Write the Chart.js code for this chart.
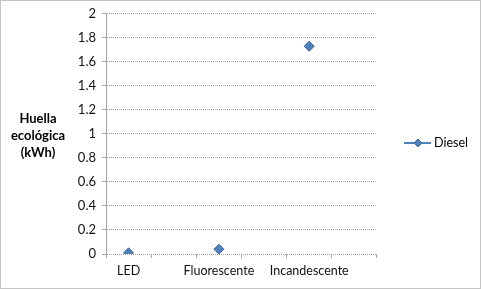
<!DOCTYPE html>
<html>
<head>
<meta charset="utf-8">
<script src="https://cdn.jsdelivr.net/npm/chart.js@4/dist/chart.umd.min.js"></script>
<style>
  html, body { margin: 0; padding: 0; background: #fff; }
  #wrap { width: 481px; height: 289px; }
</style>
</head>
<body>
<div id="wrap"><canvas id="chart" width="481" height="289"></canvas></div>
<script>
// Chart data (blank rows between the categories, as in the sheet)
const categories = ['LED', '', 'Fluorescente', '', 'Incandescente', ''];
const dieselValues = [0.01, null, 0.04, null, 1.73, null];
const seriesName = 'Diesel';
const yTitleLines = ['Huella', 'ecológica', '(kWh)'];

const FONT = 'Lato, "Open Sans", sans-serif';
const BLUE = '#4F81BD';
const BLUE_DARK = '#3A679F';

// Background, outer dotted frame, y-title and legend
const decorPlugin = {
    id: 'decor',
    beforeDraw(chart) {
        const ctx = chart.ctx;
        ctx.save();
        ctx.fillStyle = '#fff';
        ctx.fillRect(0, 0, chart.width, chart.height);
        ctx.strokeStyle = '#8a8a8a';
        ctx.lineWidth = 1;
        ctx.setLineDash([1, 1]);
        ctx.strokeRect(0.5, 0.5, chart.width - 1, chart.height - 1);
        ctx.restore();
    },
    afterDraw(chart) {
        const ctx = chart.ctx;
        ctx.save();
        // axis title
        ctx.fillStyle = '#000';
        ctx.font = 'bold 13px ' + FONT;
        ctx.textAlign = 'center';
        ctx.textBaseline = 'middle';
        yTitleLines.forEach((line, i) => {
            ctx.fillText(line, 38, 119 + i * 17);
        });
        // legend
        const lx = 418, ly = 143;
        ctx.strokeStyle = BLUE;
        ctx.lineWidth = 2;
        ctx.beginPath();
        ctx.moveTo(lx - 14, ly);
        ctx.lineTo(lx + 13, ly);
        ctx.stroke();
        ctx.fillStyle = BLUE;
        ctx.strokeStyle = BLUE_DARK;
        ctx.lineWidth = 1;
        ctx.beginPath();
        ctx.moveTo(lx, ly - 4);
        ctx.lineTo(lx + 4, ly);
        ctx.lineTo(lx, ly + 4);
        ctx.lineTo(lx - 4, ly);
        ctx.closePath();
        ctx.fill();
        ctx.stroke();
        ctx.fillStyle = '#000';
        ctx.font = '12.5px ' + FONT;
        ctx.textAlign = 'left';
        ctx.fillText(seriesName, lx + 16, ly);
        ctx.restore();
    }
};

new Chart(document.getElementById('chart'), {
    type: 'line',
    data: {
        labels: categories,
        datasets: [{
            label: seriesName,
            data: dieselValues,
            showLine: false,
            pointStyle: 'rectRot',
            pointRadius: 5,
            pointHoverRadius: 5,
            backgroundColor: BLUE,
            borderColor: BLUE_DARK,
            borderWidth: 1
        }]
    },
    options: {
        responsive: false,
        animation: false,
        layout: { padding: { left: 0, right: 104, top: 8, bottom: 0 } },
        plugins: {
            legend: { display: false },
            tooltip: { enabled: false }
        },
        scales: {
            x: {
                offset: true,
                afterFit(scale) { scale.height = 35; },
                grid: {
                    offset: true,
                    drawOnChartArea: false,
                    tickLength: 4,
                    color: '#a6a6a6'
                },
                border: { display: false },
                ticks: {
                    color: '#111',
                    font: { family: FONT, size: 12.5 },
                    padding: 5,
                    maxRotation: 0,
                    autoSkip: false
                }
            },
            y: {
                min: 0,
                max: 2,
                afterFit(scale) { scale.width = 106; },
                grid: {
                    color: '#a6a6a6',
                    tickLength: 4
                },
                border: { color: '#a6a6a6', dash: [1, 1] },
                ticks: {
                    stepSize: 0.2,
                    color: '#111',
                    font: { family: FONT, size: 13 },
                    padding: 6,
                    callback: v => String(Number(v.toFixed(1)))
                }
            }
        }
    },
    plugins: [decorPlugin]
});
</script>
</body>
</html>
